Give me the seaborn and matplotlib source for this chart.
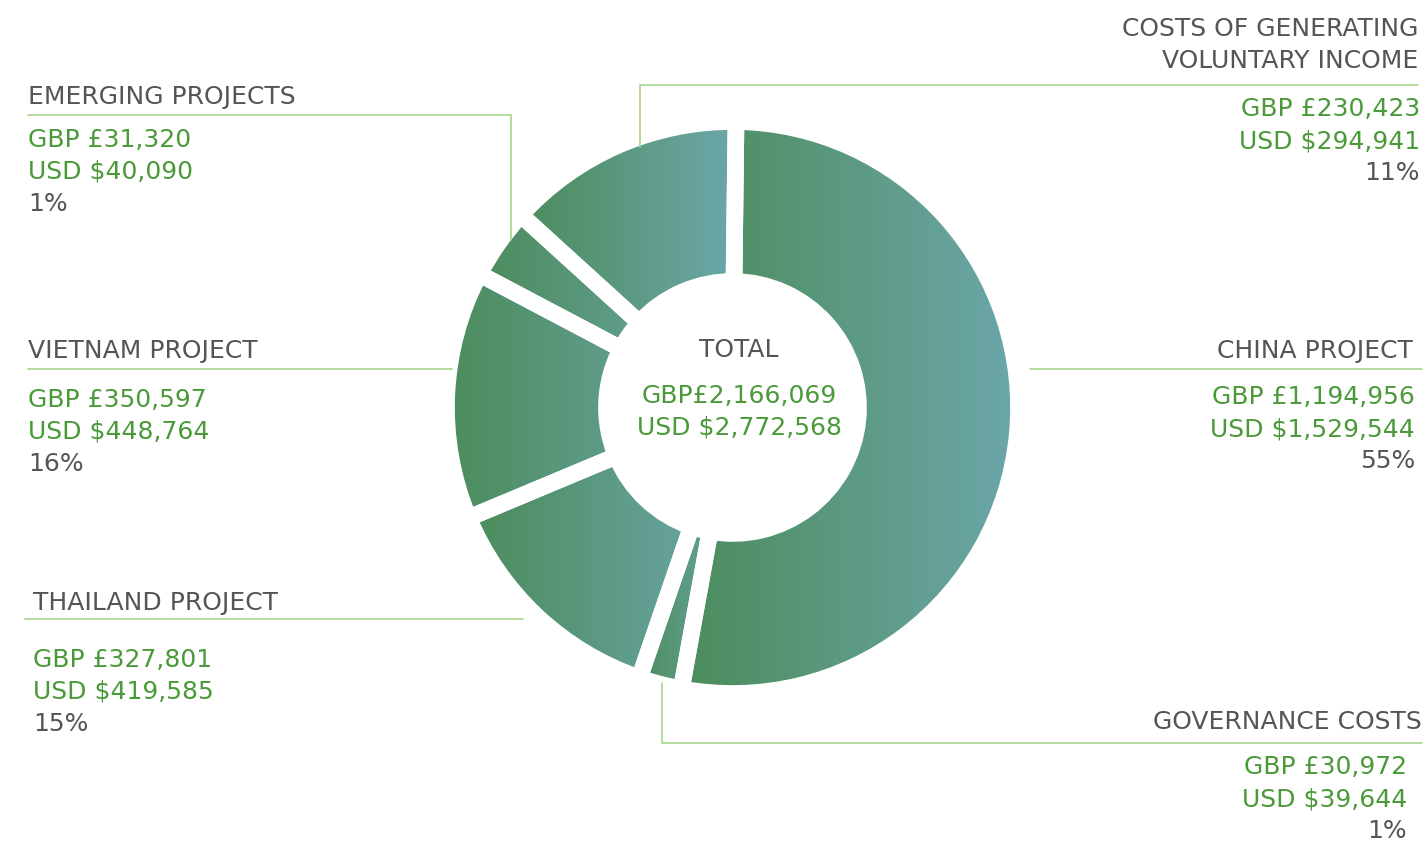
import numpy as np
import matplotlib
matplotlib.use("Agg")
import matplotlib.pyplot as plt
import seaborn as sns

# data (clockwise from 12 o'clock)
categories = ["CHINA PROJECT", "GOVERNANCE COSTS", "THAILAND PROJECT",
              "VIETNAM PROJECT", "EMERGING PROJECTS",
              "COSTS OF GENERATING\nVOLUNTARY INCOME"]
gbp = [1194956, 30972, 327801, 350597, 31320, 230423]
usd = [1529544, 39644, 419585, 448764, 40090, 294941]
pct = [55, 1, 15, 16, 1, 11]
# the ring in the reference is not drawn to scale; slice angles as measured (deg)
drawn_deg = [189.6, 8.7, 48.3, 50.5, 14.5, 48.4]

W, H = 1426, 842
GREEN_TXT = "#4b9a3a"
GREY_TXT = "#555555"
LINE_C = "#a8d48e"

sns.set_theme(style="white")
plt.rcParams["font.family"] = ["DejaVu Sans"]

fig = plt.figure(figsize=(W / 100, H / 100), dpi=100)
ax = fig.add_axes([0, 0, 1, 1])

cx, cy = 732.5, H - 407.5
R_out, R_in = 286, 126
wedges, _ = ax.pie(drawn_deg, startangle=89.3, counterclock=False,
                   center=(cx, cy), radius=R_out,
                   wedgeprops=dict(width=R_out - R_in, edgecolor="white",
                                   linewidth=12, facecolor="none"))

cmap = sns.blend_palette(["#4c8c5b", "#6ca7ab"], as_cmap=True)
grad = np.linspace(0, 1, 256).reshape(1, -1)
for w in wedges:
    w.set_zorder(3)
    v = w.get_path().vertices
    xmin, xmax = v[:, 0].min(), v[:, 0].max()
    ymin, ymax = v[:, 1].min(), v[:, 1].max()
    im = ax.imshow(grad, extent=[xmin, xmax, ymin, ymax], cmap=cmap,
                   aspect="auto", interpolation="bilinear", zorder=1)
    im.set_clip_path(w)

# label layout: title pos, align, value x, first value y, leader line
layout = {
    "CHINA PROJECT": dict(tx=1413, ty=351, ha="right", vx=1415, vy=397,
                          line=[(1030, 369), (1422, 369)]),
    "GOVERNANCE COSTS": dict(tx=1422, ty=722, ha="right", vx=1407, vy=767,
                             line=[(662, 683), (662, 743), (1422, 743)]),
    "THAILAND PROJECT": dict(tx=33, ty=603, ha="left", vx=33, vy=660,
                             line=[(25, 619), (523, 619)]),
    "VIETNAM PROJECT": dict(tx=28, ty=351, ha="left", vx=28, vy=400,
                            line=[(28, 369), (452, 369)]),
    "EMERGING PROJECTS": dict(tx=28, ty=97, ha="left", vx=28, vy=140,
                              line=[(28, 115), (511, 115), (511, 240)]),
    "COSTS OF GENERATING\nVOLUNTARY INCOME": dict(tx=1418, ty=29, ha="right",
                                                  vx=1420, vy=109,
                                                  line=[(640, 147), (640, 85), (1418, 85)]),
}

for name, g, u, p in zip(categories, gbp, usd, pct):
    L = layout[name]
    for k, part in enumerate(name.split("\n")):
        ax.text(L["tx"], H - L["ty"] - 32 * k, part, ha=L["ha"], va="center",
                fontsize=18, color=GREY_TXT)
    ax.text(L["vx"], H - L["vy"], f"GBP £{g:,}", ha=L["ha"], va="center",
            fontsize=18, color=GREEN_TXT, parse_math=False)
    ax.text(L["vx"], H - L["vy"] - 32, f"USD ${u:,}", ha=L["ha"], va="center",
            fontsize=18, color=GREEN_TXT, parse_math=False)
    ax.text(L["vx"], H - L["vy"] - 64, f"{p}%", ha=L["ha"], va="center",
            fontsize=18, color=GREY_TXT)
    xs, ys = zip(*L["line"])
    ax.plot(xs, [H - y for y in ys], color=LINE_C, lw=1.2, zorder=4)

ax.text(cx + 6, H - 350, "TOTAL", ha="center", va="center",
        fontsize=18, color=GREY_TXT)
ax.text(cx + 7, H - 396, f"GBP£{sum(gbp):,}", ha="center", va="center",
        fontsize=18, color=GREEN_TXT, parse_math=False)
ax.text(cx + 7, H - 428, f"USD ${sum(usd):,}", ha="center", va="center",
        fontsize=18, color=GREEN_TXT, parse_math=False)

ax.set_xlim(0, W)
ax.set_ylim(0, H)
ax.set_aspect("equal")
ax.axis("off")

fig.savefig("out.png", dpi=100, facecolor="white")
